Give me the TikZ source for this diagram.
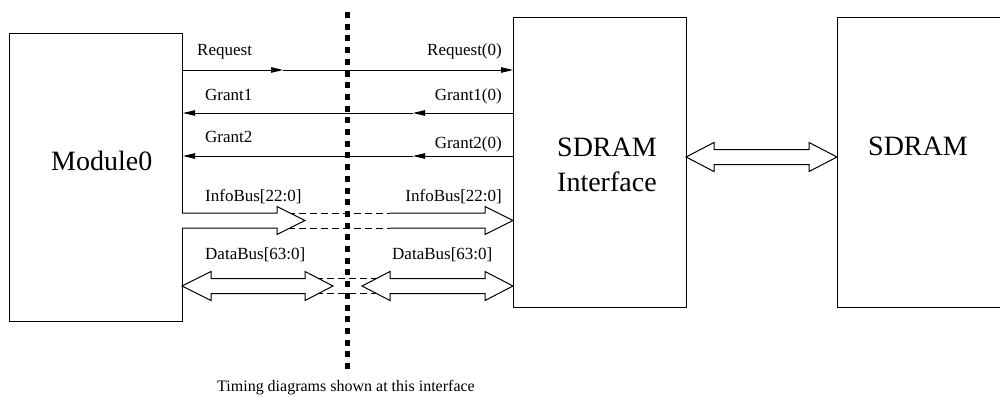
\documentclass[tikz,border=0pt]{standalone}
\usepackage{fontspec}
\setmainfont{Liberation Serif}
\usetikzlibrary{arrows.meta}
\begin{document}
\begin{tikzpicture}[x=1pt,y=-1pt,
  box/.style={draw, line width=1pt, inner sep=0pt, anchor=north west},
  sig/.style={line width=1pt, -{Triangle[length=12pt,width=5.5pt]}},
  lbl/.style={font=\fontsize{17}{20}\selectfont, inner sep=0pt},
  big/.style={font=\fontsize{28}{34}\selectfont, inner sep=0pt, anchor=base west},
  bus/.style={draw, line width=1pt, fill=white, line join=miter},
  dsh/.style={line width=1pt, dash pattern=on 7pt off 4pt},
  dots/.style={line width=5pt, dash pattern=on 6pt off 5.7pt},
]
\useasboundingbox (0,0) rectangle (1000,396);

% boxes
\node[box, minimum width=173pt, minimum height=288pt] (mod) at (9,33) {};
\node[box, minimum width=173pt, minimum height=290pt] (si) at (513,17) {};
\node[box, minimum width=200pt, minimum height=290pt] (sd) at (837,17) {};

\node[big] (tmod) at (51,170.7) {Module0};
\node[big] (tsi1) at (557,156) {SDRAM};
\node[big] (tsi2) at (557,191) {Interface};
\node[big] (tsd) at (868,155.7) {SDRAM};

% control signals
\coordinate (rqm) at (283,70);
\coordinate (g1m) at (413,113);
\coordinate (g2m) at (413,156);
\draw[sig] (mod.east |- rqm) -- (rqm);
\draw[sig] (rqm) -- (si.west |- rqm);
\draw[sig] (si.west |- g1m) -- (g1m);
\draw[sig] (g1m) -- (mod.east |- g1m);
\draw[sig] (si.west |- g2m) -- (g2m);
\draw[sig] (g2m) -- (mod.east |- g2m);

% dashed continuations
\draw[dsh] (277,213) -- (390,213);
\draw[dsh] (277,228) -- (390,228);
\draw[dsh] (305,278.5) -- (390,278.5);
\draw[dsh] (305,293.5) -- (390,293.5);

% InfoBus arrows
\draw[bus] (182,213) -- (277,213) -- (277,206.5) -- (305,220.5) -- (277,234.5) -- (277,228) -- (182,228);
\draw[bus] (390,213) -- (485,213) -- (485,206.5) -- (513,220.5) -- (485,234.5) -- (485,228) -- (390,228);

% DataBus arrows
\draw[bus] (182,286) -- (211,271.5) -- (211,278.5) -- (305,278.5) -- (305,271.5) -- (333,286)
  -- (305,300.5) -- (305,293.5) -- (211,293.5) -- (211,300.5) -- cycle;
\draw[bus] (362,286) -- (390,271.5) -- (390,278.5) -- (485,278.5) -- (485,271.5) -- (513,286)
  -- (485,300.5) -- (485,293.5) -- (390,293.5) -- (390,300.5) -- cycle;

% SDRAM link
\draw[bus] (686,157) -- (714,142.5) -- (714,149.5) -- (809,149.5) -- (809,142.5) -- (837,157)
  -- (809,171.5) -- (809,164.5) -- (714,164.5) -- (714,171.5) -- cycle;

% labels
\node[lbl, anchor=base west] (lreq) at (197,56) {Request};
\node[lbl, anchor=base east] (lreq0) at (502,56) {Request(0)};
\node[lbl, anchor=base west] (lg1) at (205,100) {Grant1};
\node[lbl, anchor=base east] (lg10) at (502,100) {Grant1(0)};
\node[lbl, anchor=base west] (lg2) at (205,142) {Grant2};
\node[lbl, anchor=base east] (lg20) at (502,148) {Grant2(0)};
\node[lbl, anchor=base west] (li) at (205,201) {InfoBus[22:0]};
\node[lbl, anchor=base east] (li0) at (502,201) {InfoBus[22:0]};
\node[lbl, anchor=base west] (ld) at (205,259) {DataBus[63:0]};
\node[lbl, anchor=base west] (ld0) at (392,259) {DataBus[63:0]};

% interface line
\coordinate (dt) at (347,12);
\coordinate (db) at (347,372);
\draw[dots] (dt) -- (db);
\node[font=\fontsize{16}{19}\selectfont, inner sep=0pt, anchor=base west] (cap) at (217,391.5) {Timing diagrams shown at this interface};
\end{tikzpicture}
\end{document}
